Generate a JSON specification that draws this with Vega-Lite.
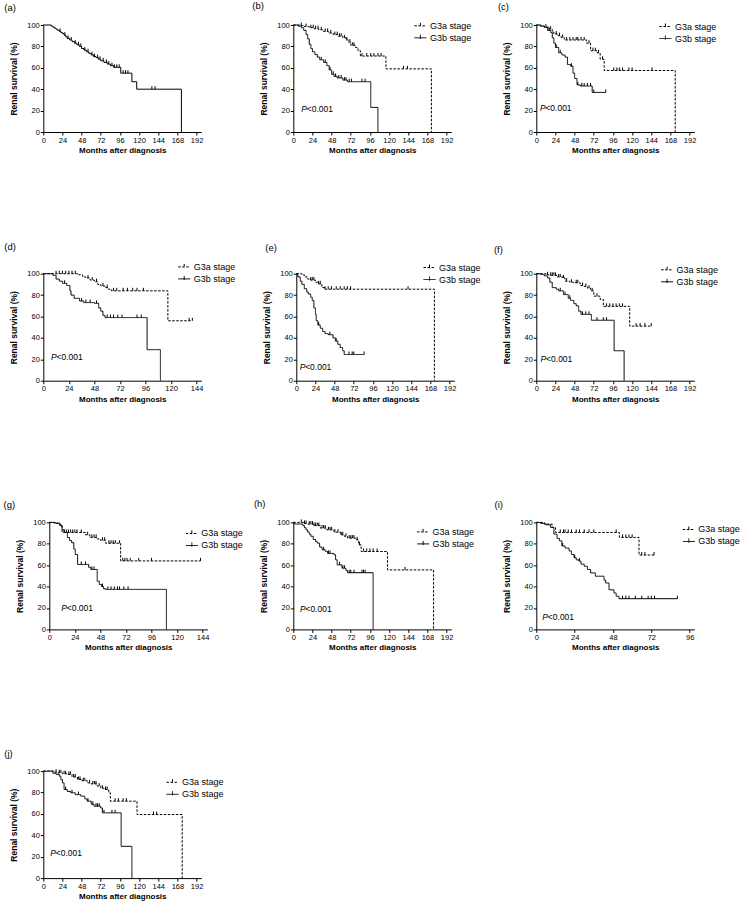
{
"$schema":"https://vega.github.io/schema/vega-lite/v6.json",
"padding":{"left":3.3,"top":0,"right":5,"bottom":5},
"bounds":"flush",
"spacing":248.7,
"resolve":{"scale":{"x":"independent","y":"independent","strokeDash":"independent"},"legend":{"strokeDash":"independent"}},
"datasets":{
"km":[
{"p":"a","g":"all","t":0,"s":100},{"p":"a","g":"all","t":10,"s":99},{"p":"a","g":"all","t":12,"s":98},{"p":"a","g":"all","t":14,"s":97},{"p":"a","g":"all","t":16,"s":96},{"p":"a","g":"all","t":18,"s":95},{"p":"a","g":"all","t":20,"s":94},{"p":"a","g":"all","t":22,"s":93},{"p":"a","g":"all","t":24,"s":92},{"p":"a","g":"all","t":26,"s":90.5},{"p":"a","g":"all","t":28,"s":89},{"p":"a","g":"all","t":30,"s":87.5},{"p":"a","g":"all","t":33,"s":86},{"p":"a","g":"all","t":36,"s":84.5},{"p":"a","g":"all","t":39,"s":83},{"p":"a","g":"all","t":42,"s":81.5},{"p":"a","g":"all","t":45,"s":80},{"p":"a","g":"all","t":48,"s":78},{"p":"a","g":"all","t":51,"s":76.5},{"p":"a","g":"all","t":54,"s":75},{"p":"a","g":"all","t":57,"s":73.5},{"p":"a","g":"all","t":60,"s":72},{"p":"a","g":"all","t":63,"s":70.5},{"p":"a","g":"all","t":66,"s":69.5},{"p":"a","g":"all","t":69,"s":68},{"p":"a","g":"all","t":72,"s":66.5},{"p":"a","g":"all","t":76,"s":65},{"p":"a","g":"all","t":80,"s":63.5},{"p":"a","g":"all","t":84,"s":62},{"p":"a","g":"all","t":88,"s":60.5},{"p":"a","g":"all","t":97,"s":55},{"p":"a","g":"all","t":111,"s":47},{"p":"a","g":"all","t":117,"s":40},{"p":"a","g":"all","t":173,"s":0},
{"p":"b","g":"G3a","t":0,"s":100},{"p":"b","g":"G3a","t":8,"s":99.5},{"p":"b","g":"G3a","t":14,"s":98.5},{"p":"b","g":"G3a","t":20,"s":97.5},{"p":"b","g":"G3a","t":26,"s":96.5},{"p":"b","g":"G3a","t":32,"s":95.5},{"p":"b","g":"G3a","t":38,"s":94},{"p":"b","g":"G3a","t":44,"s":92.5},{"p":"b","g":"G3a","t":50,"s":91},{"p":"b","g":"G3a","t":56,"s":89.5},{"p":"b","g":"G3a","t":62,"s":88},{"p":"b","g":"G3a","t":66,"s":86},{"p":"b","g":"G3a","t":69,"s":84},{"p":"b","g":"G3a","t":72,"s":81},{"p":"b","g":"G3a","t":78,"s":79},{"p":"b","g":"G3a","t":81,"s":76},{"p":"b","g":"G3a","t":84,"s":71},{"p":"b","g":"G3a","t":116,"s":59},{"p":"b","g":"G3a","t":173,"s":0},
{"p":"b","g":"G3b","t":0,"s":100},{"p":"b","g":"G3b","t":6,"s":99},{"p":"b","g":"G3b","t":10,"s":97.5},{"p":"b","g":"G3b","t":13,"s":95},{"p":"b","g":"G3b","t":16,"s":91},{"p":"b","g":"G3b","t":18,"s":87},{"p":"b","g":"G3b","t":20,"s":82},{"p":"b","g":"G3b","t":22,"s":78},{"p":"b","g":"G3b","t":24,"s":75},{"p":"b","g":"G3b","t":27,"s":72.5},{"p":"b","g":"G3b","t":30,"s":70},{"p":"b","g":"G3b","t":33,"s":67.5},{"p":"b","g":"G3b","t":38,"s":65},{"p":"b","g":"G3b","t":42,"s":62},{"p":"b","g":"G3b","t":45,"s":58},{"p":"b","g":"G3b","t":48,"s":54},{"p":"b","g":"G3b","t":51,"s":52},{"p":"b","g":"G3b","t":55,"s":50.5},{"p":"b","g":"G3b","t":62,"s":48.5},{"p":"b","g":"G3b","t":68,"s":47},{"p":"b","g":"G3b","t":97,"s":23},{"p":"b","g":"G3b","t":106,"s":0},
{"p":"c","g":"G3a","t":0,"s":100},{"p":"c","g":"G3a","t":5,"s":99},{"p":"c","g":"G3a","t":10,"s":98},{"p":"c","g":"G3a","t":16,"s":96},{"p":"c","g":"G3a","t":20,"s":93.5},{"p":"c","g":"G3a","t":22,"s":91.5},{"p":"c","g":"G3a","t":27,"s":90},{"p":"c","g":"G3a","t":31,"s":88.4},{"p":"c","g":"G3a","t":35,"s":86},{"p":"c","g":"G3a","t":63,"s":83},{"p":"c","g":"G3a","t":68,"s":76},{"p":"c","g":"G3a","t":76,"s":74},{"p":"c","g":"G3a","t":80,"s":68},{"p":"c","g":"G3a","t":85,"s":57.5},{"p":"c","g":"G3a","t":174,"s":0},
{"p":"c","g":"G3b","t":0,"s":100},{"p":"c","g":"G3b","t":6,"s":99},{"p":"c","g":"G3b","t":10,"s":97.8},{"p":"c","g":"G3b","t":14,"s":95},{"p":"c","g":"G3b","t":18,"s":93},{"p":"c","g":"G3b","t":20,"s":88},{"p":"c","g":"G3b","t":22,"s":83},{"p":"c","g":"G3b","t":24,"s":79},{"p":"c","g":"G3b","t":28,"s":74},{"p":"c","g":"G3b","t":32,"s":72},{"p":"c","g":"G3b","t":36,"s":70},{"p":"c","g":"G3b","t":39,"s":63},{"p":"c","g":"G3b","t":43,"s":61.5},{"p":"c","g":"G3b","t":46,"s":55},{"p":"c","g":"G3b","t":48,"s":50},{"p":"c","g":"G3b","t":51,"s":44},{"p":"c","g":"G3b","t":55,"s":43},{"p":"c","g":"G3b","t":70,"s":37},{"p":"c","g":"G3b","t":87,"s":37},
{"p":"d","g":"G3a","t":0,"s":100},{"p":"d","g":"G3a","t":33,"s":99},{"p":"d","g":"G3a","t":37,"s":97},{"p":"d","g":"G3a","t":40,"s":96},{"p":"d","g":"G3a","t":44,"s":94},{"p":"d","g":"G3a","t":48,"s":92.5},{"p":"d","g":"G3a","t":51,"s":90},{"p":"d","g":"G3a","t":54,"s":88.5},{"p":"d","g":"G3a","t":58,"s":87},{"p":"d","g":"G3a","t":61,"s":85.5},{"p":"d","g":"G3a","t":64,"s":84},{"p":"d","g":"G3a","t":117,"s":56},{"p":"d","g":"G3a","t":140,"s":56},
{"p":"d","g":"G3b","t":0,"s":100},{"p":"d","g":"G3b","t":9,"s":98.5},{"p":"d","g":"G3b","t":12,"s":95},{"p":"d","g":"G3b","t":15,"s":93},{"p":"d","g":"G3b","t":18,"s":91},{"p":"d","g":"G3b","t":22,"s":89},{"p":"d","g":"G3b","t":25,"s":84},{"p":"d","g":"G3b","t":26,"s":80},{"p":"d","g":"G3b","t":29,"s":77},{"p":"d","g":"G3b","t":34,"s":74.5},{"p":"d","g":"G3b","t":38,"s":73},{"p":"d","g":"G3b","t":48,"s":72.3},{"p":"d","g":"G3b","t":52,"s":68},{"p":"d","g":"G3b","t":54,"s":65},{"p":"d","g":"G3b","t":56,"s":61},{"p":"d","g":"G3b","t":58,"s":59},{"p":"d","g":"G3b","t":97.5,"s":29},{"p":"d","g":"G3b","t":110,"s":0},
{"p":"e","g":"G3a","t":0,"s":100},{"p":"e","g":"G3a","t":7,"s":99},{"p":"e","g":"G3a","t":10,"s":97},{"p":"e","g":"G3a","t":14,"s":95},{"p":"e","g":"G3a","t":18,"s":94},{"p":"e","g":"G3a","t":24,"s":92},{"p":"e","g":"G3a","t":27,"s":90.5},{"p":"e","g":"G3a","t":32,"s":87},{"p":"e","g":"G3a","t":36,"s":85.5},{"p":"e","g":"G3a","t":173,"s":0},
{"p":"e","g":"G3b","t":0,"s":100},{"p":"e","g":"G3b","t":2,"s":97},{"p":"e","g":"G3b","t":5,"s":93},{"p":"e","g":"G3b","t":7,"s":90},{"p":"e","g":"G3b","t":10,"s":86},{"p":"e","g":"G3b","t":13,"s":83},{"p":"e","g":"G3b","t":15,"s":81},{"p":"e","g":"G3b","t":18,"s":78},{"p":"e","g":"G3b","t":20,"s":75},{"p":"e","g":"G3b","t":22,"s":68},{"p":"e","g":"G3b","t":24,"s":62},{"p":"e","g":"G3b","t":25,"s":56},{"p":"e","g":"G3b","t":27,"s":52},{"p":"e","g":"G3b","t":30,"s":49},{"p":"e","g":"G3b","t":33,"s":46},{"p":"e","g":"G3b","t":36,"s":44},{"p":"e","g":"G3b","t":40,"s":43},{"p":"e","g":"G3b","t":46,"s":40},{"p":"e","g":"G3b","t":49,"s":37},{"p":"e","g":"G3b","t":52,"s":34},{"p":"e","g":"G3b","t":55,"s":31},{"p":"e","g":"G3b","t":58,"s":28},{"p":"e","g":"G3b","t":60,"s":24.5},{"p":"e","g":"G3b","t":85,"s":24.5},
{"p":"f","g":"G3a","t":0,"s":100},{"p":"f","g":"G3a","t":12,"s":99},{"p":"f","g":"G3a","t":16,"s":98.5},{"p":"f","g":"G3a","t":26,"s":97},{"p":"f","g":"G3a","t":33,"s":96},{"p":"f","g":"G3a","t":36,"s":93},{"p":"f","g":"G3a","t":42,"s":92},{"p":"f","g":"G3a","t":47,"s":91.5},{"p":"f","g":"G3a","t":55,"s":89},{"p":"f","g":"G3a","t":60,"s":88},{"p":"f","g":"G3a","t":64,"s":86.5},{"p":"f","g":"G3a","t":68,"s":84},{"p":"f","g":"G3a","t":72,"s":79},{"p":"f","g":"G3a","t":80,"s":76},{"p":"f","g":"G3a","t":84,"s":69.5},{"p":"f","g":"G3a","t":117,"s":51},{"p":"f","g":"G3a","t":144,"s":51},
{"p":"f","g":"G3b","t":0,"s":100},{"p":"f","g":"G3b","t":5,"s":99.4},{"p":"f","g":"G3b","t":10,"s":98},{"p":"f","g":"G3b","t":14,"s":96},{"p":"f","g":"G3b","t":17,"s":92},{"p":"f","g":"G3b","t":20,"s":87},{"p":"f","g":"G3b","t":25,"s":85.5},{"p":"f","g":"G3b","t":28,"s":84},{"p":"f","g":"G3b","t":34,"s":80.5},{"p":"f","g":"G3b","t":40,"s":77},{"p":"f","g":"G3b","t":43,"s":75},{"p":"f","g":"G3b","t":47,"s":72},{"p":"f","g":"G3b","t":50,"s":70},{"p":"f","g":"G3b","t":53,"s":65},{"p":"f","g":"G3b","t":56,"s":62},{"p":"f","g":"G3b","t":69,"s":56.5},{"p":"f","g":"G3b","t":97.5,"s":28},{"p":"f","g":"G3b","t":110,"s":0},
{"p":"g","g":"G3a","t":0,"s":100},{"p":"g","g":"G3a","t":6,"s":99},{"p":"g","g":"G3a","t":9,"s":97.8},{"p":"g","g":"G3a","t":12,"s":90.6},{"p":"g","g":"G3a","t":34,"s":88.4},{"p":"g","g":"G3a","t":38,"s":86},{"p":"g","g":"G3a","t":45,"s":84.5},{"p":"g","g":"G3a","t":48,"s":83.3},{"p":"g","g":"G3a","t":53,"s":80.5},{"p":"g","g":"G3a","t":67,"s":64},{"p":"g","g":"G3a","t":142,"s":64},
{"p":"g","g":"G3b","t":0,"s":100},{"p":"g","g":"G3b","t":4,"s":99.4},{"p":"g","g":"G3b","t":10,"s":97},{"p":"g","g":"G3b","t":12,"s":93},{"p":"g","g":"G3b","t":14,"s":90.6},{"p":"g","g":"G3b","t":17,"s":85.8},{"p":"g","g":"G3b","t":19,"s":83},{"p":"g","g":"G3b","t":21,"s":81},{"p":"g","g":"G3b","t":23,"s":75},{"p":"g","g":"G3b","t":24.4,"s":70},{"p":"g","g":"G3b","t":26.6,"s":60.7},{"p":"g","g":"G3b","t":37,"s":58},{"p":"g","g":"G3b","t":39,"s":56},{"p":"g","g":"G3b","t":45,"s":45},{"p":"g","g":"G3b","t":47,"s":42},{"p":"g","g":"G3b","t":49,"s":40},{"p":"g","g":"G3b","t":51,"s":38},{"p":"g","g":"G3b","t":53,"s":37.4},{"p":"g","g":"G3b","t":110,"s":0},
{"p":"h","g":"G3a","t":0,"s":100},{"p":"h","g":"G3a","t":13,"s":99},{"p":"h","g":"G3a","t":18,"s":98.4},{"p":"h","g":"G3a","t":25,"s":97},{"p":"h","g":"G3a","t":34,"s":94.7},{"p":"h","g":"G3a","t":42,"s":93},{"p":"h","g":"G3a","t":51,"s":90.9},{"p":"h","g":"G3a","t":59,"s":88.4},{"p":"h","g":"G3a","t":64,"s":87},{"p":"h","g":"G3a","t":68,"s":85.3},{"p":"h","g":"G3a","t":78,"s":83.8},{"p":"h","g":"G3a","t":82,"s":79},{"p":"h","g":"G3a","t":85,"s":72.8},{"p":"h","g":"G3a","t":118,"s":55.6},{"p":"h","g":"G3a","t":175.7,"s":0},
{"p":"h","g":"G3b","t":0,"s":100},{"p":"h","g":"G3b","t":1,"s":98.5},{"p":"h","g":"G3b","t":12,"s":97},{"p":"h","g":"G3b","t":14,"s":95},{"p":"h","g":"G3b","t":16,"s":93},{"p":"h","g":"G3b","t":18,"s":91},{"p":"h","g":"G3b","t":20,"s":89},{"p":"h","g":"G3b","t":22,"s":87},{"p":"h","g":"G3b","t":25,"s":84},{"p":"h","g":"G3b","t":28,"s":82},{"p":"h","g":"G3b","t":30,"s":80.6},{"p":"h","g":"G3b","t":33,"s":77},{"p":"h","g":"G3b","t":36,"s":74.4},{"p":"h","g":"G3b","t":40,"s":73},{"p":"h","g":"G3b","t":43,"s":71},{"p":"h","g":"G3b","t":51,"s":69.7},{"p":"h","g":"G3b","t":53,"s":65},{"p":"h","g":"G3b","t":55,"s":60.3},{"p":"h","g":"G3b","t":61,"s":57.2},{"p":"h","g":"G3b","t":66,"s":55},{"p":"h","g":"G3b","t":68,"s":53},{"p":"h","g":"G3b","t":100,"s":0},
{"p":"i","g":"G3a","t":0,"s":100},{"p":"i","g":"G3a","t":5,"s":98.4},{"p":"i","g":"G3a","t":10,"s":95.3},{"p":"i","g":"G3a","t":12,"s":90.6},{"p":"i","g":"G3a","t":52,"s":86},{"p":"i","g":"G3a","t":64.3,"s":69.5},{"p":"i","g":"G3a","t":73.7,"s":69.5},
{"p":"i","g":"G3b","t":0,"s":100},{"p":"i","g":"G3b","t":2.7,"s":99},{"p":"i","g":"G3b","t":5.8,"s":97.8},{"p":"i","g":"G3b","t":9,"s":95.3},{"p":"i","g":"G3b","t":11,"s":89},{"p":"i","g":"G3b","t":13,"s":85},{"p":"i","g":"G3b","t":14.5,"s":82.7},{"p":"i","g":"G3b","t":16,"s":78},{"p":"i","g":"G3b","t":18,"s":76},{"p":"i","g":"G3b","t":20.5,"s":73.3},{"p":"i","g":"G3b","t":22,"s":70},{"p":"i","g":"G3b","t":23.6,"s":67},{"p":"i","g":"G3b","t":25,"s":65},{"p":"i","g":"G3b","t":26.7,"s":63.8},{"p":"i","g":"G3b","t":28,"s":61},{"p":"i","g":"G3b","t":30,"s":59},{"p":"i","g":"G3b","t":32,"s":56},{"p":"i","g":"G3b","t":34,"s":52.8},{"p":"i","g":"G3b","t":37,"s":49.7},{"p":"i","g":"G3b","t":42.4,"s":46},{"p":"i","g":"G3b","t":43.4,"s":43.4},{"p":"i","g":"G3b","t":45.5,"s":37},{"p":"i","g":"G3b","t":48.6,"s":34},{"p":"i","g":"G3b","t":50,"s":31},{"p":"i","g":"G3b","t":51.7,"s":28.7},{"p":"i","g":"G3b","t":88.3,"s":28.7},
{"p":"j","g":"G3a","t":0,"s":100},{"p":"j","g":"G3a","t":14,"s":99},{"p":"j","g":"G3a","t":18,"s":98.4},{"p":"j","g":"G3a","t":24,"s":97.5},{"p":"j","g":"G3a","t":30,"s":96.9},{"p":"j","g":"G3a","t":36,"s":94.5},{"p":"j","g":"G3a","t":42.7,"s":92.2},{"p":"j","g":"G3a","t":48,"s":91},{"p":"j","g":"G3a","t":55,"s":89},{"p":"j","g":"G3a","t":60,"s":88},{"p":"j","g":"G3a","t":67.6,"s":86},{"p":"j","g":"G3a","t":72,"s":84},{"p":"j","g":"G3a","t":76,"s":82.8},{"p":"j","g":"G3a","t":82,"s":79.7},{"p":"j","g":"G3a","t":84,"s":71.9},{"p":"j","g":"G3a","t":117.4,"s":59.4},{"p":"j","g":"G3a","t":174,"s":0},
{"p":"j","g":"G3b","t":0,"s":100},{"p":"j","g":"G3b","t":12,"s":98},{"p":"j","g":"G3b","t":16,"s":97},{"p":"j","g":"G3b","t":20,"s":95.3},{"p":"j","g":"G3b","t":22,"s":92},{"p":"j","g":"G3b","t":24,"s":89},{"p":"j","g":"G3b","t":26,"s":82.8},{"p":"j","g":"G3b","t":30,"s":81},{"p":"j","g":"G3b","t":34.4,"s":79.7},{"p":"j","g":"G3b","t":40,"s":78},{"p":"j","g":"G3b","t":47,"s":76.6},{"p":"j","g":"G3b","t":52,"s":74},{"p":"j","g":"G3b","t":55,"s":71.9},{"p":"j","g":"G3b","t":60,"s":69},{"p":"j","g":"G3b","t":63.5,"s":67.2},{"p":"j","g":"G3b","t":71.8,"s":65.6},{"p":"j","g":"G3b","t":74,"s":61},{"p":"j","g":"G3b","t":97.5,"s":29.7},{"p":"j","g":"G3b","t":111,"s":0}
],
"cen":[
{"p":"a","t":21,"s":94},{"p":"a","t":27,"s":90.5},{"p":"a","t":31,"s":87.5},{"p":"a","t":35,"s":86},{"p":"a","t":40,"s":83},{"p":"a","t":44,"s":81.5},{"p":"a","t":47,"s":80},{"p":"a","t":52,"s":76.5},{"p":"a","t":56,"s":75},{"p":"a","t":61,"s":72},{"p":"a","t":64,"s":70.5},{"p":"a","t":68,"s":69.5},{"p":"a","t":71,"s":68},{"p":"a","t":75,"s":66.5},{"p":"a","t":79,"s":65},{"p":"a","t":82,"s":63.5},{"p":"a","t":86,"s":62},{"p":"a","t":89,"s":60.5},{"p":"a","t":92,"s":60.5},{"p":"a","t":95,"s":60.5},{"p":"a","t":100,"s":55},{"p":"a","t":103,"s":55},{"p":"a","t":106,"s":55},{"p":"a","t":136,"s":40},{"p":"a","t":140,"s":40},
{"p":"b","t":10,"s":99.5},{"p":"b","t":16,"s":98.5},{"p":"b","t":22,"s":97.5},{"p":"b","t":25,"s":97.5},{"p":"b","t":28,"s":96.5},{"p":"b","t":31,"s":96.5},{"p":"b","t":35,"s":95.5},{"p":"b","t":40,"s":94},{"p":"b","t":43,"s":94},{"p":"b","t":47,"s":92.5},{"p":"b","t":52,"s":91},{"p":"b","t":55,"s":91},{"p":"b","t":58,"s":89.5},{"p":"b","t":60,"s":89.5},{"p":"b","t":64,"s":88},{"p":"b","t":67,"s":86},{"p":"b","t":71,"s":84},{"p":"b","t":74,"s":81},{"p":"b","t":76,"s":81},{"p":"b","t":86,"s":71},{"p":"b","t":92,"s":71},{"p":"b","t":97,"s":71},{"p":"b","t":101,"s":71},{"p":"b","t":106,"s":71},{"p":"b","t":110,"s":71},{"p":"b","t":138,"s":59},{"p":"b","t":143,"s":59},
{"p":"b","t":35,"s":67.5},{"p":"b","t":40,"s":65},{"p":"b","t":46,"s":58},{"p":"b","t":50,"s":54},{"p":"b","t":53,"s":52},{"p":"b","t":57,"s":50.5},{"p":"b","t":60,"s":50.5},{"p":"b","t":64,"s":48.5},{"p":"b","t":66,"s":48.5},{"p":"b","t":70,"s":47},{"p":"b","t":73,"s":47},{"p":"b","t":86,"s":47},{"p":"b","t":90,"s":47},
{"p":"c","t":12,"s":98},{"p":"c","t":18,"s":96},{"p":"c","t":25,"s":91.5},{"p":"c","t":29,"s":90},{"p":"c","t":33,"s":88.4},{"p":"c","t":38,"s":86},{"p":"c","t":42,"s":86},{"p":"c","t":46,"s":86},{"p":"c","t":50,"s":86},{"p":"c","t":52,"s":86},{"p":"c","t":56,"s":86},{"p":"c","t":60,"s":86},{"p":"c","t":66,"s":83},{"p":"c","t":71,"s":76},{"p":"c","t":74,"s":76},{"p":"c","t":78,"s":74},{"p":"c","t":83,"s":68},{"p":"c","t":97,"s":57.5},{"p":"c","t":101,"s":57.5},{"p":"c","t":104,"s":57.5},{"p":"c","t":108,"s":57.5},{"p":"c","t":116,"s":57.5},{"p":"c","t":120,"s":57.5},{"p":"c","t":145,"s":57.5},
{"p":"c","t":16,"s":95},{"p":"c","t":25,"s":79},{"p":"c","t":30,"s":74},{"p":"c","t":44,"s":61.5},{"p":"c","t":52,"s":44},{"p":"c","t":57,"s":43},{"p":"c","t":60,"s":43},{"p":"c","t":64,"s":43},{"p":"c","t":68,"s":43},{"p":"c","t":72,"s":37},{"p":"c","t":87,"s":37},
{"p":"d","t":12,"s":100},{"p":"d","t":15,"s":100},{"p":"d","t":18,"s":100},{"p":"d","t":21,"s":100},{"p":"d","t":24,"s":100},{"p":"d","t":27,"s":100},{"p":"d","t":30,"s":100},{"p":"d","t":42,"s":96},{"p":"d","t":46,"s":94},{"p":"d","t":50,"s":92.5},{"p":"d","t":56,"s":88.5},{"p":"d","t":60,"s":87},{"p":"d","t":66,"s":84},{"p":"d","t":69,"s":84},{"p":"d","t":75,"s":84},{"p":"d","t":79,"s":84},{"p":"d","t":84,"s":84},{"p":"d","t":88,"s":84},{"p":"d","t":94,"s":84},{"p":"d","t":137,"s":56},{"p":"d","t":140,"s":56},
{"p":"d","t":20,"s":91},{"p":"d","t":36,"s":74.5},{"p":"d","t":40,"s":73},{"p":"d","t":44,"s":73},{"p":"d","t":50,"s":72.3},{"p":"d","t":60,"s":59},{"p":"d","t":63,"s":59},{"p":"d","t":66,"s":59},{"p":"d","t":70,"s":59},{"p":"d","t":74,"s":59},{"p":"d","t":88,"s":59},{"p":"d","t":92,"s":59},
{"p":"e","t":18,"s":94},{"p":"e","t":20,"s":94},{"p":"e","t":22,"s":94},{"p":"e","t":28,"s":90.5},{"p":"e","t":30,"s":90.5},{"p":"e","t":36,"s":85.5},{"p":"e","t":40,"s":85.5},{"p":"e","t":44,"s":85.5},{"p":"e","t":50,"s":85.5},{"p":"e","t":55,"s":85.5},{"p":"e","t":60,"s":85.5},{"p":"e","t":64,"s":85.5},{"p":"e","t":68,"s":85.5},{"p":"e","t":140,"s":85.5},
{"p":"e","t":28,"s":52},{"p":"e","t":42,"s":43},{"p":"e","t":50,"s":37},{"p":"e","t":66,"s":24.5},{"p":"e","t":70,"s":24.5},{"p":"e","t":72,"s":24.5},{"p":"e","t":85,"s":24.5},
{"p":"f","t":14,"s":99},{"p":"f","t":18,"s":98.5},{"p":"f","t":20,"s":98.5},{"p":"f","t":22,"s":98.5},{"p":"f","t":24,"s":98.5},{"p":"f","t":28,"s":97},{"p":"f","t":30,"s":97},{"p":"f","t":34,"s":96},{"p":"f","t":38,"s":93},{"p":"f","t":44,"s":92},{"p":"f","t":50,"s":91.5},{"p":"f","t":52,"s":91.5},{"p":"f","t":58,"s":89},{"p":"f","t":62,"s":88},{"p":"f","t":66,"s":86.5},{"p":"f","t":70,"s":84},{"p":"f","t":76,"s":79},{"p":"f","t":88,"s":69.5},{"p":"f","t":92,"s":69.5},{"p":"f","t":96,"s":69.5},{"p":"f","t":100,"s":69.5},{"p":"f","t":104,"s":69.5},{"p":"f","t":108,"s":69.5},{"p":"f","t":125,"s":51},{"p":"f","t":130,"s":51},{"p":"f","t":136,"s":51},{"p":"f","t":144,"s":51},
{"p":"f","t":30,"s":84},{"p":"f","t":36,"s":80.5},{"p":"f","t":42,"s":77},{"p":"f","t":58,"s":62},{"p":"f","t":62,"s":62},{"p":"f","t":66,"s":62},{"p":"f","t":76,"s":56.5},{"p":"f","t":84,"s":56.5},{"p":"f","t":88,"s":56.5},
{"p":"g","t":14,"s":90.6},{"p":"g","t":16,"s":90.6},{"p":"g","t":18,"s":90.6},{"p":"g","t":20,"s":90.6},{"p":"g","t":22,"s":90.6},{"p":"g","t":24,"s":90.6},{"p":"g","t":26,"s":90.6},{"p":"g","t":30,"s":90.6},{"p":"g","t":36,"s":88.4},{"p":"g","t":40,"s":86},{"p":"g","t":42,"s":86},{"p":"g","t":44,"s":86},{"p":"g","t":50,"s":83.3},{"p":"g","t":52,"s":83.3},{"p":"g","t":56,"s":80.5},{"p":"g","t":58,"s":80.5},{"p":"g","t":60,"s":80.5},{"p":"g","t":62,"s":80.5},{"p":"g","t":66,"s":80.5},{"p":"g","t":69,"s":64},{"p":"g","t":71,"s":64},{"p":"g","t":73,"s":64},{"p":"g","t":76,"s":64},{"p":"g","t":84,"s":64},{"p":"g","t":96,"s":64},{"p":"g","t":142,"s":64},
{"p":"g","t":30,"s":60.7},{"p":"g","t":34,"s":60.7},{"p":"g","t":40,"s":56},{"p":"g","t":42,"s":56},{"p":"g","t":50,"s":40},{"p":"g","t":55,"s":37.4},{"p":"g","t":58,"s":37.4},{"p":"g","t":61,"s":37.4},{"p":"g","t":64,"s":37.4},{"p":"g","t":66,"s":37.4},{"p":"g","t":70,"s":37.4},{"p":"g","t":74,"s":37.4},
{"p":"h","t":10,"s":100},{"p":"h","t":14,"s":99},{"p":"h","t":16,"s":99},{"p":"h","t":20,"s":98.4},{"p":"h","t":22,"s":98.4},{"p":"h","t":24,"s":98.4},{"p":"h","t":26,"s":97},{"p":"h","t":28,"s":97},{"p":"h","t":30,"s":97},{"p":"h","t":32,"s":97},{"p":"h","t":36,"s":94.7},{"p":"h","t":38,"s":94.7},{"p":"h","t":40,"s":94.7},{"p":"h","t":44,"s":93},{"p":"h","t":46,"s":93},{"p":"h","t":48,"s":93},{"p":"h","t":52,"s":90.9},{"p":"h","t":56,"s":90.9},{"p":"h","t":60,"s":88.4},{"p":"h","t":62,"s":88.4},{"p":"h","t":66,"s":87},{"p":"h","t":70,"s":85.3},{"p":"h","t":72,"s":85.3},{"p":"h","t":74,"s":85.3},{"p":"h","t":76,"s":85.3},{"p":"h","t":80,"s":83.8},{"p":"h","t":83,"s":79},{"p":"h","t":88,"s":72.8},{"p":"h","t":92,"s":72.8},{"p":"h","t":96,"s":72.8},{"p":"h","t":100,"s":72.8},{"p":"h","t":105,"s":72.8},{"p":"h","t":140,"s":55.6},
{"p":"h","t":38,"s":74.4},{"p":"h","t":44,"s":71},{"p":"h","t":46,"s":71},{"p":"h","t":58,"s":60.3},{"p":"h","t":62,"s":57.2},{"p":"h","t":64,"s":57.2},{"p":"h","t":70,"s":53},{"p":"h","t":72,"s":53},{"p":"h","t":76,"s":53},{"p":"h","t":86,"s":53},{"p":"h","t":88,"s":53},{"p":"h","t":90,"s":53},
{"p":"i","t":15,"s":90.6},{"p":"i","t":17,"s":90.6},{"p":"i","t":18,"s":90.6},{"p":"i","t":20,"s":90.6},{"p":"i","t":22,"s":90.6},{"p":"i","t":25,"s":90.6},{"p":"i","t":27,"s":90.6},{"p":"i","t":30,"s":90.6},{"p":"i","t":33,"s":90.6},{"p":"i","t":36,"s":90.6},{"p":"i","t":50,"s":90.6},{"p":"i","t":54,"s":86},{"p":"i","t":56,"s":86},{"p":"i","t":58,"s":86},{"p":"i","t":60,"s":86},{"p":"i","t":66,"s":69.5},{"p":"i","t":68,"s":69.5},{"p":"i","t":73.7,"s":69.5},
{"p":"i","t":16.5,"s":78},{"p":"i","t":24,"s":67},{"p":"i","t":27,"s":63.8},{"p":"i","t":54,"s":28.7},{"p":"i","t":56,"s":28.7},{"p":"i","t":58,"s":28.7},{"p":"i","t":62,"s":28.7},{"p":"i","t":66,"s":28.7},{"p":"i","t":70,"s":28.7},{"p":"i","t":72,"s":28.7},{"p":"i","t":74,"s":28.7},{"p":"i","t":88.3,"s":28.7},
{"p":"j","t":16,"s":99},{"p":"j","t":20,"s":98.4},{"p":"j","t":22,"s":98.4},{"p":"j","t":26,"s":97.5},{"p":"j","t":28,"s":97.5},{"p":"j","t":32,"s":96.9},{"p":"j","t":34,"s":96.9},{"p":"j","t":38,"s":94.5},{"p":"j","t":40,"s":94.5},{"p":"j","t":44,"s":92.2},{"p":"j","t":46,"s":92.2},{"p":"j","t":50,"s":91},{"p":"j","t":52,"s":91},{"p":"j","t":58,"s":89},{"p":"j","t":62,"s":88},{"p":"j","t":64,"s":88},{"p":"j","t":66,"s":88},{"p":"j","t":70,"s":86},{"p":"j","t":74,"s":84},{"p":"j","t":78,"s":82.8},{"p":"j","t":80,"s":82.8},{"p":"j","t":90,"s":71.9},{"p":"j","t":94,"s":71.9},{"p":"j","t":100,"s":71.9},{"p":"j","t":104,"s":71.9},{"p":"j","t":138,"s":59.4},{"p":"j","t":142,"s":59.4},
{"p":"j","t":28,"s":82.8},{"p":"j","t":36,"s":79.7},{"p":"j","t":44,"s":78},{"p":"j","t":56,"s":71.9},{"p":"j","t":62,"s":69},{"p":"j","t":66,"s":67.2},{"p":"j","t":68,"s":67.2},{"p":"j","t":70,"s":67.2},{"p":"j","t":76,"s":61},{"p":"j","t":86,"s":61},{"p":"j","t":90,"s":61}
]
},
"vconcat":[
{"bounds":"flush","spacing":0,"resolve":{"scale":{"x":"independent","y":"independent","strokeDash":"independent"},"legend":{"strokeDash":"independent"}},"hconcat":[
  {"width":158,"height":107,"title":{"text":"(a)","dx":-39},"layer":[
   {"data":{"name":"km"},"transform":[{"filter":"datum.p=='a'"}],"mark":{"type":"line","interpolate":"step-after","strokeWidth":1,"color":"#000"},
    "encoding":{"x":{"field":"t","type":"quantitative","scale":{"domain":[0,197.9],"nice":false},"axis":{"values":[0,24,48,72,96,120,144,168,192],"tickCount":20,"labelOverlap":false,"labelFlush":false,"title":"Months after diagnosis"}},
     "y":{"field":"s","type":"quantitative","scale":{"domain":[0,100],"nice":false},"axis":{"values":[0,20,40,60,80,100],"tickCount":20,"labelOverlap":false,"labelFlush":false,"title":"Renal survival (%)"}}}},
   {"data":{"name":"cen"},"transform":[{"filter":"datum.p=='a'"}],"mark":{"type":"point","shape":"M0,0V-1","size":36,"filled":false,"stroke":"#000","strokeWidth":1,"opacity":1},
    "encoding":{"x":{"field":"t","type":"quantitative"},"y":{"field":"s","type":"quantitative"}}}
  ]},
  {"width":91.7,"height":1,"data":{"values":[]},"mark":"point","encoding":{}},
  {"width":158,"height":107,"title":{"text":"(b)","dx":-41},"layer":[
   {"data":{"name":"km"},"transform":[{"filter":"datum.p=='b'"}],"mark":{"type":"line","interpolate":"step-after","strokeWidth":1,"color":"#000"},
    "encoding":{"x":{"field":"t","type":"quantitative","scale":{"domain":[0,197.9],"nice":false},"axis":{"values":[0,24,48,72,96,120,144,168,192],"tickCount":20,"labelOverlap":false,"labelFlush":false,"title":"Months after diagnosis"}},
     "y":{"field":"s","type":"quantitative","scale":{"domain":[0,100],"nice":false},"axis":{"values":[0,20,40,60,80,100],"tickCount":20,"labelOverlap":false,"labelFlush":false,"title":"Renal survival (%)"}},
     "strokeDash":{"field":"g","type":"nominal","scale":{"domain":["G3a","G3b"],"range":[[2.5,1.5],[1,0]]},"legend":{"title":null,"labelExpr":"datum.label + ' stage'","legendX":120.6,"legendY":-5.7}}}},
   {"data":{"name":"cen"},"transform":[{"filter":"datum.p=='b'"}],"mark":{"type":"point","shape":"M0,0V-1","size":36,"filled":false,"stroke":"#000","strokeWidth":1,"opacity":1},
    "encoding":{"x":{"field":"t","type":"quantitative"},"y":{"field":"s","type":"quantitative"}}},
   {"data":{"values":[{}]},"mark":{"type":"text","text":"P","fontStyle":"italic","align":"left"},"encoding":{"x":{"datum":10},"y":{"datum":21.8}}},
   {"data":{"values":[{}]},"mark":{"type":"text","text":"<0.001","align":"left","dx":5.5},"encoding":{"x":{"datum":10},"y":{"datum":21.8}}}
  ]},
  {"width":85,"height":1,"data":{"values":[]},"mark":"point","encoding":{}},
  {"width":158,"height":107,"title":{"text":"(c)","dx":-38.4},"layer":[
   {"data":{"name":"km"},"transform":[{"filter":"datum.p=='c'"}],"mark":{"type":"line","interpolate":"step-after","strokeWidth":1,"color":"#000"},
    "encoding":{"x":{"field":"t","type":"quantitative","scale":{"domain":[0,197.9],"nice":false},"axis":{"values":[0,24,48,72,96,120,144,168,192],"tickCount":20,"labelOverlap":false,"labelFlush":false,"title":"Months after diagnosis"}},
     "y":{"field":"s","type":"quantitative","scale":{"domain":[0,100],"nice":false},"axis":{"values":[0,20,40,60,80,100],"tickCount":20,"labelOverlap":false,"labelFlush":false,"title":"Renal survival (%)"}},
     "strokeDash":{"field":"g","type":"nominal","scale":{"domain":["G3a","G3b"],"range":[[2.5,1.5],[1,0]]},"legend":{"title":null,"labelExpr":"datum.label + ' stage'","legendX":122.6,"legendY":-5}}}},
   {"data":{"name":"cen"},"transform":[{"filter":"datum.p=='c'"}],"mark":{"type":"point","shape":"M0,0V-1","size":36,"filled":false,"stroke":"#000","strokeWidth":1,"opacity":1},
    "encoding":{"x":{"field":"t","type":"quantitative"},"y":{"field":"s","type":"quantitative"}}},
   {"data":{"values":[{}]},"mark":{"type":"text","text":"P","fontStyle":"italic","align":"left"},"encoding":{"x":{"datum":4.5},"y":{"datum":22}}},
   {"data":{"values":[{}]},"mark":{"type":"text","text":"<0.001","align":"left","dx":5.5},"encoding":{"x":{"datum":4.5},"y":{"datum":22}}}
  ]}
]},
{"bounds":"flush","spacing":0,"resolve":{"scale":{"x":"independent","y":"independent","strokeDash":"independent"},"legend":{"strokeDash":"independent"}},"hconcat":[
  {"width":158,"height":107,"title":{"text":"(d)","dx":-39},"layer":[
   {"data":{"name":"km"},"transform":[{"filter":"datum.p=='d'"}],"mark":{"type":"line","interpolate":"step-after","strokeWidth":1,"color":"#000"},
    "encoding":{"x":{"field":"t","type":"quantitative","scale":{"domain":[0,148.4],"nice":false},"axis":{"values":[0,24,48,72,96,120,144],"tickCount":20,"labelOverlap":false,"labelFlush":false,"title":"Months after diagnosis"}},
     "y":{"field":"s","type":"quantitative","scale":{"domain":[0,100],"nice":false},"axis":{"values":[0,20,40,60,80,100],"tickCount":20,"labelOverlap":false,"labelFlush":false,"title":"Renal survival (%)"}},
     "strokeDash":{"field":"g","type":"nominal","scale":{"domain":["G3a","G3b"],"range":[[2.5,1.5],[1,0]]},"legend":{"title":null,"labelExpr":"datum.label + ' stage'","legendX":134.4,"legendY":-13.3}}}},
   {"data":{"name":"cen"},"transform":[{"filter":"datum.p=='d'"}],"mark":{"type":"point","shape":"M0,0V-1","size":36,"filled":false,"stroke":"#000","strokeWidth":1,"opacity":1},
    "encoding":{"x":{"field":"t","type":"quantitative"},"y":{"field":"s","type":"quantitative"}}},
   {"data":{"values":[{}]},"mark":{"type":"text","text":"P","fontStyle":"italic","align":"left"},"encoding":{"x":{"datum":7.3},"y":{"datum":22.6}}},
   {"data":{"values":[{}]},"mark":{"type":"text","text":"<0.001","align":"left","dx":5.5},"encoding":{"x":{"datum":7.3},"y":{"datum":22.6}}}
  ]},
  {"width":95,"height":1,"data":{"values":[]},"mark":"point","encoding":{}},
  {"width":158,"height":107,"title":{"text":"(e)","dx":-31},"layer":[
   {"data":{"name":"km"},"transform":[{"filter":"datum.p=='e'"}],"mark":{"type":"line","interpolate":"step-after","strokeWidth":1,"color":"#000"},
    "encoding":{"x":{"field":"t","type":"quantitative","scale":{"domain":[0,197.9],"nice":false},"axis":{"values":[0,24,48,72,96,120,144,168,192],"tickCount":20,"labelOverlap":false,"labelFlush":false,"title":"Months after diagnosis"}},
     "y":{"field":"s","type":"quantitative","scale":{"domain":[0,100],"nice":false},"axis":{"values":[0,20,40,60,80,100],"tickCount":20,"labelOverlap":false,"labelFlush":false,"title":"Renal survival (%)"}},
     "strokeDash":{"field":"g","type":"nominal","scale":{"domain":["G3a","G3b"],"range":[[2.5,1.5],[1,0]]},"legend":{"title":null,"labelExpr":"datum.label + ' stage'","legendX":126.7,"legendY":-12.7}}}},
   {"data":{"name":"cen"},"transform":[{"filter":"datum.p=='e'"}],"mark":{"type":"point","shape":"M0,0V-1","size":36,"filled":false,"stroke":"#000","strokeWidth":1,"opacity":1},
    "encoding":{"x":{"field":"t","type":"quantitative"},"y":{"field":"s","type":"quantitative"}}},
   {"data":{"values":[{}]},"mark":{"type":"text","text":"P","fontStyle":"italic","align":"left"},"encoding":{"x":{"datum":4.2},"y":{"datum":13}}},
   {"data":{"values":[{}]},"mark":{"type":"text","text":"<0.001","align":"left","dx":5.5},"encoding":{"x":{"datum":4.2},"y":{"datum":13}}}
  ]},
  {"width":81.7,"height":1,"data":{"values":[]},"mark":"point","encoding":{}},
  {"width":158,"height":107,"title":{"text":"(f)","dx":-42.4},"layer":[
   {"data":{"name":"km"},"transform":[{"filter":"datum.p=='f'"}],"mark":{"type":"line","interpolate":"step-after","strokeWidth":1,"color":"#000"},
    "encoding":{"x":{"field":"t","type":"quantitative","scale":{"domain":[0,197.9],"nice":false},"axis":{"values":[0,24,48,72,96,120,144,168,192],"tickCount":20,"labelOverlap":false,"labelFlush":false,"title":"Months after diagnosis"}},
     "y":{"field":"s","type":"quantitative","scale":{"domain":[0,100],"nice":false},"axis":{"values":[0,20,40,60,80,100],"tickCount":20,"labelOverlap":false,"labelFlush":false,"title":"Renal survival (%)"}},
     "strokeDash":{"field":"g","type":"nominal","scale":{"domain":["G3a","G3b"],"range":[[2.5,1.5],[1,0]]},"legend":{"title":null,"labelExpr":"datum.label + ' stage'","legendX":124.3,"legendY":-10.4}}}},
   {"data":{"name":"cen"},"transform":[{"filter":"datum.p=='f'"}],"mark":{"type":"point","shape":"M0,0V-1","size":36,"filled":false,"stroke":"#000","strokeWidth":1,"opacity":1},
    "encoding":{"x":{"field":"t","type":"quantitative"},"y":{"field":"s","type":"quantitative"}}},
   {"data":{"values":[{}]},"mark":{"type":"text","text":"P","fontStyle":"italic","align":"left"},"encoding":{"x":{"datum":5.4},"y":{"datum":20}}},
   {"data":{"values":[{}]},"mark":{"type":"text","text":"<0.001","align":"left","dx":5.5},"encoding":{"x":{"datum":5.4},"y":{"datum":20}}}
  ]}
]},
{"bounds":"flush","spacing":0,"resolve":{"scale":{"x":"independent","y":"independent","strokeDash":"independent"},"legend":{"strokeDash":"independent"}},"hconcat":[
  {"width":6,"height":1,"data":{"values":[]},"mark":"point","encoding":{}},
  {"width":158,"height":107,"title":{"text":"(g)","dx":-45.7},"layer":[
   {"data":{"name":"km"},"transform":[{"filter":"datum.p=='g'"}],"mark":{"type":"line","interpolate":"step-after","strokeWidth":1,"color":"#000"},
    "encoding":{"x":{"field":"t","type":"quantitative","scale":{"domain":[0,148.4],"nice":false},"axis":{"values":[0,24,48,72,96,120,144],"tickCount":20,"labelOverlap":false,"labelFlush":false,"title":"Months after diagnosis"}},
     "y":{"field":"s","type":"quantitative","scale":{"domain":[0,100],"nice":false},"axis":{"values":[0,20,40,60,80,100],"tickCount":20,"labelOverlap":false,"labelFlush":false,"title":"Renal survival (%)"}},
     "strokeDash":{"field":"g","type":"nominal","scale":{"domain":["G3a","G3b"],"range":[[2.5,1.5],[1,0]]},"legend":{"title":null,"labelExpr":"datum.label + ' stage'","legendX":136,"legendY":4.6}}}},
   {"data":{"name":"cen"},"transform":[{"filter":"datum.p=='g'"}],"mark":{"type":"point","shape":"M0,0V-1","size":36,"filled":false,"stroke":"#000","strokeWidth":1,"opacity":1},
    "encoding":{"x":{"field":"t","type":"quantitative"},"y":{"field":"s","type":"quantitative"}}},
   {"data":{"values":[{}]},"mark":{"type":"text","text":"P","fontStyle":"italic","align":"left"},"encoding":{"x":{"datum":11.3},"y":{"datum":19.6}}},
   {"data":{"values":[{}]},"mark":{"type":"text","text":"<0.001","align":"left","dx":5.5},"encoding":{"x":{"datum":11.3},"y":{"datum":19.6}}}
  ]},
  {"width":85.7,"height":1,"data":{"values":[]},"mark":"point","encoding":{}},
  {"width":158,"height":107,"title":{"text":"(h)","dx":-39.4},"layer":[
   {"data":{"name":"km"},"transform":[{"filter":"datum.p=='h'"}],"mark":{"type":"line","interpolate":"step-after","strokeWidth":1,"color":"#000"},
    "encoding":{"x":{"field":"t","type":"quantitative","scale":{"domain":[0,197.9],"nice":false},"axis":{"values":[0,24,48,72,96,120,144,168,192],"tickCount":20,"labelOverlap":false,"labelFlush":false,"title":"Months after diagnosis"}},
     "y":{"field":"s","type":"quantitative","scale":{"domain":[0,100],"nice":false},"axis":{"values":[0,20,40,60,80,100],"tickCount":20,"labelOverlap":false,"labelFlush":false,"title":"Renal survival (%)"}},
     "strokeDash":{"field":"g","type":"nominal","scale":{"domain":["G3a","G3b"],"range":[[2.5,1.5],[1,0]]},"legend":{"title":null,"labelExpr":"datum.label + ' stage'","legendX":123.3,"legendY":3}}}},
   {"data":{"name":"cen"},"transform":[{"filter":"datum.p=='h'"}],"mark":{"type":"point","shape":"M0,0V-1","size":36,"filled":false,"stroke":"#000","strokeWidth":1,"opacity":1},
    "encoding":{"x":{"field":"t","type":"quantitative"},"y":{"field":"s","type":"quantitative"}}},
   {"data":{"values":[{}]},"mark":{"type":"text","text":"P","fontStyle":"italic","align":"left"},"encoding":{"x":{"datum":8.3},"y":{"datum":19.3}}},
   {"data":{"values":[{}]},"mark":{"type":"text","text":"<0.001","align":"left","dx":5.5},"encoding":{"x":{"datum":8.3},"y":{"datum":19.3}}}
  ]},
  {"width":85,"height":1,"data":{"values":[]},"mark":"point","encoding":{}},
  {"width":158,"height":107,"title":{"text":"(i)","dx":-41.7},"layer":[
   {"data":{"name":"km"},"transform":[{"filter":"datum.p=='i'"}],"mark":{"type":"line","interpolate":"step-after","strokeWidth":1,"color":"#000"},
    "encoding":{"x":{"field":"t","type":"quantitative","scale":{"domain":[0,98.9],"nice":false},"axis":{"values":[0,24,48,72,96],"tickCount":20,"labelOverlap":false,"labelFlush":false,"title":"Months after diagnosis"}},
     "y":{"field":"s","type":"quantitative","scale":{"domain":[0,100],"nice":false},"axis":{"values":[0,20,40,60,80,100],"tickCount":20,"labelOverlap":false,"labelFlush":false,"title":"Renal survival (%)"}},
     "strokeDash":{"field":"g","type":"nominal","scale":{"domain":["G3a","G3b"],"range":[[2.5,1.5],[1,0]]},"legend":{"title":null,"labelExpr":"datum.label + ' stage'","legendX":146,"legendY":0.6}}}},
   {"data":{"name":"cen"},"transform":[{"filter":"datum.p=='i'"}],"mark":{"type":"point","shape":"M0,0V-1","size":36,"filled":false,"stroke":"#000","strokeWidth":1,"opacity":1},
    "encoding":{"x":{"field":"t","type":"quantitative"},"y":{"field":"s","type":"quantitative"}}},
   {"data":{"values":[{}]},"mark":{"type":"text","text":"P","fontStyle":"italic","align":"left"},"encoding":{"x":{"datum":3.8},"y":{"datum":11.2}}},
   {"data":{"values":[{}]},"mark":{"type":"text","text":"<0.001","align":"left","dx":5.5},"encoding":{"x":{"datum":3.8},"y":{"datum":11.2}}}
  ]}
]},
{"width":158,"height":107,"title":{"text":"(j)","dx":-39},"layer":[
   {"data":{"name":"km"},"transform":[{"filter":"datum.p=='j'"}],"mark":{"type":"line","interpolate":"step-after","strokeWidth":1,"color":"#000"},
    "encoding":{"x":{"field":"t","type":"quantitative","scale":{"domain":[0,197.9],"nice":false},"axis":{"values":[0,24,48,72,96,120,144,168,192],"tickCount":20,"labelOverlap":false,"labelFlush":false,"title":"Months after diagnosis"}},
     "y":{"field":"s","type":"quantitative","scale":{"domain":[0,100],"nice":false},"axis":{"values":[0,20,40,60,80,100],"tickCount":20,"labelOverlap":false,"labelFlush":false,"title":"Renal survival (%)"}},
     "strokeDash":{"field":"g","type":"nominal","scale":{"domain":["G3a","G3b"],"range":[[2.5,1.5],[1,0]]},"legend":{"title":null,"labelExpr":"datum.label + ' stage'","legendX":122.7,"legendY":4.7}}}},
   {"data":{"name":"cen"},"transform":[{"filter":"datum.p=='j'"}],"mark":{"type":"point","shape":"M0,0V-1","size":36,"filled":false,"stroke":"#000","strokeWidth":1,"opacity":1},
    "encoding":{"x":{"field":"t","type":"quantitative"},"y":{"field":"s","type":"quantitative"}}},
   {"data":{"values":[{}]},"mark":{"type":"text","text":"P","fontStyle":"italic","align":"left"},"encoding":{"x":{"datum":8.8},"y":{"datum":23.6}}},
   {"data":{"values":[{}]},"mark":{"type":"text","text":"<0.001","align":"left","dx":5.5},"encoding":{"x":{"datum":8.8},"y":{"datum":23.6}}}
]}
],
"config":{
 "font":"Liberation Sans",
 "view":{"stroke":null},
 "axis":{"grid":false,"domainColor":"#000","domainWidth":1,"tickColor":"#000","tickWidth":1,"tickSize":3,"labelFont":"Liberation Sans","labelFontSize":7.5,"labelColor":"#000","labelPadding":1,"titleFont":"Liberation Sans","titleFontSize":8,"titleFontWeight":"bold","titleColor":"#000"},
 "axisX":{"titlePadding":3},
 "axisY":{"titlePadding":8,"titleFontSize":8.5},
 "legend":{"orient":"none","symbolType":"M-1,0H1M0,-0.5V0.2","symbolSize":144,"symbolStrokeColor":"#000","symbolStrokeWidth":1,"symbolFillColor":"transparent","labelFontSize":9,"labelFont":"Liberation Sans","labelColor":"#000","rowPadding":0,"padding":0,"labelOffset":3},
 "title":{"anchor":"start","frame":"group","fontSize":9.5,"fontWeight":"normal","font":"Liberation Sans","color":"#000","offset":9},
 "text":{"font":"Liberation Sans","fontSize":8.5,"color":"#000"}
}
}
